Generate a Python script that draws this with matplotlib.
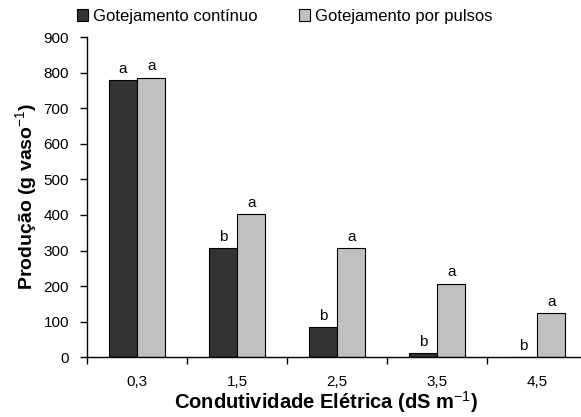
import matplotlib
matplotlib.use("Agg")
import matplotlib.pyplot as plt
import numpy as np

plt.rcParams['font.family'] = ['Liberation Sans', 'DejaVu Sans']
plt.rcParams['mathtext.fontset'] = 'custom'
plt.rcParams['mathtext.rm'] = 'Liberation Sans'
plt.rcParams['mathtext.bf'] = 'Liberation Sans:bold'

categories = ["0,3", "1,5", "2,5", "3,5", "4,5"]
continuo = [779, 306, 86, 11, 0]
pulsos = [786, 402, 306, 207, 124]
letters_continuo = ["a", "b", "b", "b", "b"]
letters_pulsos = ["a", "a", "a", "a", "a"]
series_names = ["Gotejamento contínuo", "Gotejamento por pulsos"]
yticks = [0, 100, 200, 300, 400, 500, 600, 700, 800, 900]

fig = plt.figure(figsize=(5.81, 4.17), dpi=100)
ax = fig.add_axes([87/581, 59.7/417, 500/581, 320.2/417])

x = np.arange(len(categories))
w = 0.283
b1 = ax.bar(x - w/2, continuo, width=w, color="#333333", edgecolor="black", linewidth=0.8, label=series_names[0])
b2 = ax.bar(x + w/2, pulsos, width=w, color="#C0C0C0", edgecolor="black", linewidth=0.8, label=series_names[1])

for xi, v, t in zip(x - w/2, continuo, letters_continuo):
    ax.annotate(t, (xi, v), xytext=(0, 3), textcoords="offset points", ha="center", va="bottom", fontsize=11)
for xi, v, t in zip(x + w/2, pulsos, letters_pulsos):
    ax.annotate(t, (xi, v), xytext=(0, 3), textcoords="offset points", ha="center", va="bottom", fontsize=11)

ax.set_xlim(-0.5, len(categories) - 0.5)
ax.set_ylim(0, 900)
ax.set_yticks(yticks)
ax.set_yticklabels([str(v) for v in yticks], fontsize=11)
ax.set_xticks(x)
ax.set_xticklabels(categories, fontsize=11)
ax.set_xticks(np.arange(-0.5, len(categories)), minor=True)
ax.tick_params(axis="x", which="major", length=0, pad=13)
ax.tick_params(axis="x", which="minor", length=5, width=1, direction="out")
ax.tick_params(axis="y", length=5, width=1, direction="out", pad=8)

for s in ["top", "right"]:
    ax.spines[s].set_visible(False)
for s in ["left", "bottom"]:
    ax.spines[s].set_linewidth(1)

fig.text(27/581, 1 - 196/417, "Produção (g vaso$^{\\mathrm{-1}}$)", rotation=90,
         fontsize=14, fontweight="bold", ha="center", va="center")
fig.text(326/581, 1 - 402/417, "Condutividade Elétrica (dS m$^{\\mathrm{-1}}$)",
         fontsize=14.5, fontweight="bold", ha="center", va="center")

fig.legend(handles=[b1, b2], loc="center left", bbox_to_anchor=(70/581, 1 - 16/417),
           ncol=2, frameon=False, fontsize=12, handlelength=0.7, handleheight=0.7,
           handletextpad=0.3, columnspacing=2.45, borderaxespad=0)

fig.savefig("out.png", dpi=100)
